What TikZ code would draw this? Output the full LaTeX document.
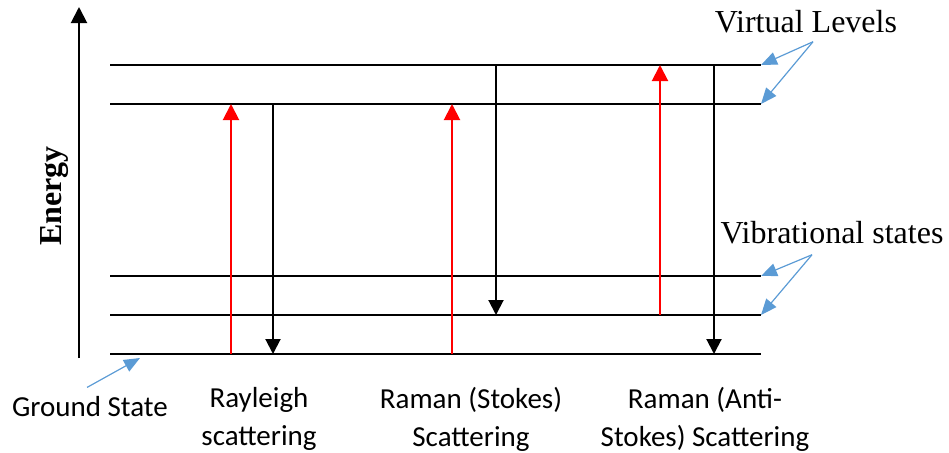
\documentclass[tikz,border=0pt]{standalone}
\usepackage{fontspec}
\setmainfont{Liberation Serif}
\newfontfamily\calfont{Carlito}
\usetikzlibrary{arrows.meta}

\begin{document}
\begin{tikzpicture}[x=0.5pt,y=-0.5pt,
  level/.style={line width=1pt},
  absorb/.style={red,line width=1pt,-{Triangle[width=8pt,length=8pt]}},
  emit/.style={line width=1pt,-{Triangle[width=7.5pt,length=7.5pt]}},
  pointer/.style={color={rgb,255:red,91;green,155;blue,213},line width=0.6pt,-{Triangle[width=6.5pt,length=8pt]}},
  tag/.style={inner sep=1pt,font=\fontsize{16}{19}\selectfont},
  lbl/.style={inner sep=1pt,align=center,font=\calfont\fontsize{14.5}{19}\selectfont}]
\useasboundingbox (0,0) rectangle (949,452);
\draw[line width=1pt,-{Triangle[width=8pt,length=8pt]}] (79,358) -- (79,7);
\node[inner sep=1pt,rotate=90,font=\fontsize{16}{19}\selectfont\bfseries] (energy) at (55,196) {Energy};
\foreach \y/\n in {65/v2,104/v1,276/s2,315/s1,354/g0}
  {\draw[level] (110,\y) -- (761,\y) coordinate (\n);}
\draw[absorb] (231,354) -- (231,104);
\draw[emit] (273,104) -- (273,354);
\draw[absorb] (452,354) -- (452,104);
\draw[emit] (496,65) -- (496,315);
\draw[absorb] (660,315) -- (660,65);
\draw[emit] (714,65) -- (714,354);
\node[tag] (virt) at (806,22) {Virtual Levels};
\node[tag] (vib) at (832,233) {Vibrational states};
\draw[pointer] ([xshift=3.5pt,yshift=-3pt]virt.south) -- (v2);
\draw[pointer] ([xshift=3.5pt,yshift=-3pt]virt.south) -- (v1);
\draw[pointer] ([xshift=-10pt,yshift=-4pt]vib.south) -- (s2);
\draw[pointer] ([xshift=-10pt,yshift=-4pt]vib.south) -- (s1);
\node[lbl] (ground) at (90,407) {Ground State};
\draw[pointer] ([xshift=-1.5pt,yshift=3.5pt]ground.north) -- (140,358);
\node[lbl] (rayleigh) at (259,419) {Rayleigh\\scattering};
\node[lbl] (stokes) at (471,419) {Raman (Stokes)\\Scattering};
\node[lbl] (anti) at (705,419) {Raman (Anti-\\Stokes) Scattering};
\end{tikzpicture}
\end{document}
